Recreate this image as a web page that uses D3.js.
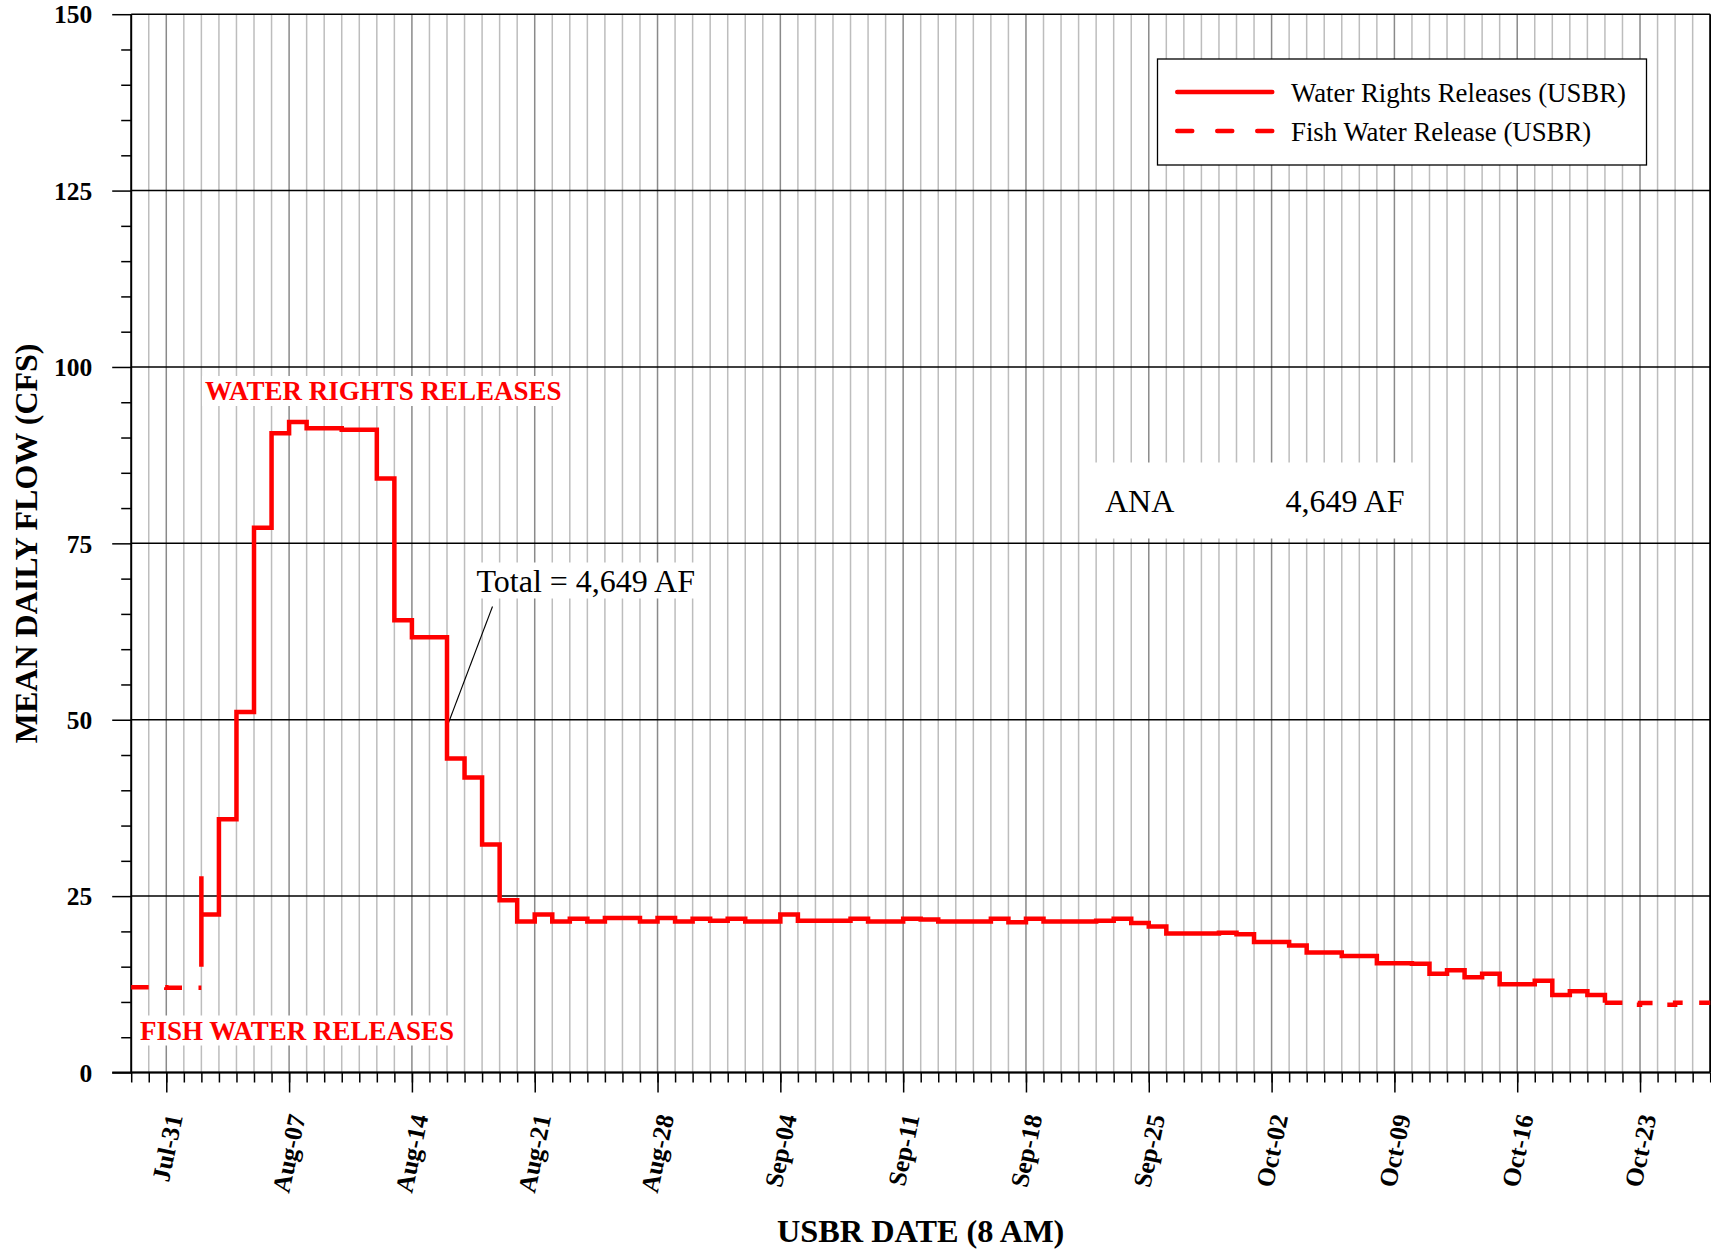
<!DOCTYPE html>
<html><head><meta charset="utf-8">
<script src="https://cdn.jsdelivr.net/npm/d3@7"></script>
<style>
html,body{margin:0;padding:0;background:#fff;}
svg{display:block;}
</style></head>
<body>
<svg id="chart" width="1711" height="1249"></svg>
<script>
// ---------------- data ----------------
const axisStartLabel = "Jul-29";
const axisEndLabel = "Oct-27";
const xTickLabels = ["Jul-31","Aug-07","Aug-14","Aug-21","Aug-28","Sep-04","Sep-11","Sep-18","Sep-25","Oct-02","Oct-09","Oct-16","Oct-23"];
const yTickValues = [0, 25, 50, 75, 100, 125, 150];
const yMinorStep = 5;

// Fish water release (dashed) before water-rights releases, daily values from Jul-29
const fishEarlyStart = "Jul-29";
const fishEarlyValues = [12.1, 12.1, 12.0, 12.0];

// Water rights releases (solid), daily values from Aug-02
const waterRightsStart = "Aug-02";
const waterRightsSpike = [15.0, 27.8];
const waterRightsValues = [
  22.4, 35.9, 51.1, 77.2, 90.6, 92.2, 91.3, 91.3, 91.1, 91.1,
  84.2, 64.1, 61.7, 61.7, 44.5, 41.8, 32.3, 24.4, 21.4, 22.4,
  21.4, 21.8, 21.4, 21.9, 21.9, 21.4, 21.9, 21.4, 21.8, 21.5,
  21.8, 21.4, 21.4, 22.4, 21.5, 21.5, 21.5, 21.8, 21.4, 21.4,
  21.8, 21.7, 21.4, 21.4, 21.4, 21.8, 21.3, 21.8, 21.4, 21.4,
  21.4, 21.5, 21.8, 21.2, 20.7, 19.7, 19.7, 19.7, 19.8, 19.6,
  18.5, 18.5, 18.0, 17.0, 17.0, 16.5, 16.5, 15.5, 15.5, 15.4,
  14.0, 14.5, 13.5, 14.0, 12.5, 12.5, 13.0, 11.0, 11.5, 11.0
];

// Fish water release (dashed) after water-rights releases, daily values from Oct-21
const fishLateStart = "Oct-21";
const fishLateValues = [9.9, 9.6, 9.85, 9.6, 9.9, 9.9];

const seriesNames = ["Water Rights Releases (USBR)", "Fish Water Release (USBR)"];
const yTitle = "MEAN DAILY FLOW (CFS)";
const xTitle = "USBR DATE (8 AM)";
const labelWaterRights = "WATER RIGHTS RELEASES";
const labelFish = "FISH WATER RELEASES";
const totalText = "Total = 4,649 AF";
const totalPointerDate = "Aug-16";
const totalPointerValue = 49;
const anaName = "ANA";
const anaValue = "4,649 AF";

// ---------------- chart ----------------
(function () {
const RED = "#ff0000";
const SERIF = "'Liberation Serif','Times New Roman',Times,serif";
const parse = d3.utcParse("%b-%d");
const svg = d3.select("#chart");

const pLeft = 131.2, pRight = 1710.2, pTop = 14.2, pBottom = 1072.5;
const x = d3.scaleUtc().domain([parse(axisStartLabel), parse(axisEndLabel)]).range([pLeft, pRight]);
const y = d3.scaleLinear().domain([0, 150]).range([pBottom, pTop]);

const allDays = d3.utcDay.range(parse(axisStartLabel), d3.utcDay.offset(parse(axisEndLabel), 1));
const majorDays = xTickLabels.map(parse);
const majorSet = new Set(majorDays.map(d => +d));

// vertical gridlines
svg.append("g").selectAll("line").data(allDays.filter(d => +d > +x.domain()[0] && +d < +x.domain()[1]))
  .join("line")
  .attr("x1", d => x(d)).attr("x2", d => x(d))
  .attr("y1", y(150)).attr("y2", y(0))
  .attr("stroke", d => majorSet.has(+d) ? "#8a8a8a" : "#bdbdbd")
  .attr("stroke-width", 1.5);

// horizontal gridlines
svg.append("g").selectAll("line").data(yTickValues)
  .join("line")
  .attr("x1", pLeft).attr("x2", pRight)
  .attr("y1", d => y(d)).attr("y2", d => y(d))
  .attr("stroke", "#000").attr("stroke-width", 1.5);

// y axis minor ticks
const yMinor = d3.range(0, 150 + 1e-9, yMinorStep).filter(v => v % 25 !== 0);
const gyMinor = svg.append("g").attr("transform", `translate(${pLeft},0)`)
  .call(d3.axisLeft(y).tickValues(yMinor).tickSize(10).tickFormat(""));
gyMinor.select(".domain").remove();
gyMinor.selectAll("line").attr("stroke", "#000").attr("stroke-width", 1.5);

// y axis major ticks + labels
const gy = svg.append("g").attr("transform", `translate(${pLeft},0)`)
  .call(d3.axisLeft(y).tickValues(yTickValues).tickSize(19).tickPadding(20));
gy.select(".domain").remove();
gy.selectAll("line").attr("stroke", "#000").attr("stroke-width", 1.5);
gy.selectAll("text").attr("font-family", SERIF).attr("font-weight", "bold")
  .attr("font-size", 25.5).attr("fill", "#000").attr("dy", "0.34em");

// x axis minor ticks
const gxMinor = svg.append("g").attr("transform", `translate(0,${pBottom})`)
  .call(d3.axisBottom(x).tickValues(allDays).tickSize(10).tickFormat(""));
gxMinor.select(".domain").remove();
gxMinor.selectAll("line").attr("stroke", "#000").attr("stroke-width", 1.5);

// x axis major ticks + labels
const gx = svg.append("g").attr("transform", `translate(0,${pBottom})`)
  .call(d3.axisBottom(x).tickValues(majorDays).tickSize(20).tickFormat((d, i) => xTickLabels[i]));
gx.select(".domain").remove();
gx.selectAll("line").attr("stroke", "#000").attr("stroke-width", 1.5);
gx.selectAll("text")
  .attr("x", null).attr("y", null).attr("dy", null)
  .attr("text-anchor", "end")
  .attr("transform", "translate(16,44) rotate(-78)")
  .attr("font-family", SERIF).attr("font-weight", "bold")
  .attr("font-size", 25.5).attr("fill", "#000");

// axis frame lines
svg.append("line").attr("x1", pLeft).attr("x2", pLeft).attr("y1", y(150)).attr("y2", y(0))
  .attr("stroke", "#000").attr("stroke-width", 2);
svg.append("line").attr("x1", pRight).attr("x2", pRight).attr("y1", y(150)).attr("y2", y(0))
  .attr("stroke", "#000").attr("stroke-width", 2);
svg.append("line").attr("x1", pLeft - 19).attr("x2", pRight).attr("y1", y(0)).attr("y2", y(0))
  .attr("stroke", "#000").attr("stroke-width", 2);

// axis titles
svg.append("text").attr("transform", `translate(37,${(pTop + pBottom) / 2}) rotate(-90)`)
  .attr("text-anchor", "middle").attr("font-family", SERIF).attr("font-weight", "bold")
  .attr("font-size", 32).text(yTitle);
svg.append("text").attr("x", (pLeft + pRight) / 2).attr("y", 1242)
  .attr("text-anchor", "middle").attr("font-family", SERIF).attr("font-weight", "bold")
  .attr("font-size", 32.3).text(xTitle);

// annotation labels with white backgrounds
function boxedText(g, tx, ty, txt, opts) {
  const t = g.append("text").attr("x", tx).attr("y", ty)
    .attr("font-family", SERIF).attr("font-size", opts.size)
    .attr("font-weight", opts.bold ? "bold" : "normal")
    .attr("fill", opts.color).text(txt);
  const b = t.node().getBBox();
  g.insert("rect", "text").attr("x", b.x - 3).attr("y", b.y).attr("width", b.width + 6).attr("height", b.height)
    .attr("fill", "#fff");
  return t;
}
const ann = svg.append("g");
boxedText(ann.append("g"), 205, 400, labelWaterRights, {size: 27, bold: true, color: RED});
boxedText(ann.append("g"), 140, 1039.5, labelFish, {size: 27, bold: true, color: RED});
boxedText(ann.append("g"), 476.5, 591.5, totalText, {size: 32, bold: false, color: "#000"});

// ANA box
const anaG = svg.append("g");
anaG.append("rect").attr("x", 1080).attr("y", 462.5).attr("width", 348).attr("height", 76).attr("fill", "#fff");
anaG.append("text").attr("x", 1105).attr("y", 511.5).attr("font-family", SERIF).attr("font-size", 32).text(anaName);
anaG.append("text").attr("x", 1285.5).attr("y", 511.5).attr("font-family", SERIF).attr("font-size", 32).text(anaValue);

// leader line to the total pointer
svg.append("line").attr("x1", 492.5).attr("y1", 606.5)
  .attr("x2", x(parse(totalPointerDate))).attr("y2", y(totalPointerValue))
  .attr("stroke", "#000").attr("stroke-width", 1.1);

// ---------------- series ----------------
function stepPoints(startLabel, values) {
  const s = parse(startLabel);
  const pts = values.map((v, i) => [d3.utcDay.offset(s, i), v]);
  pts.push([d3.utcDay.offset(s, values.length), values[values.length - 1]]);
  return pts;
}
const line = d3.line().x(d => x(d[0])).y(d => y(d[1])).curve(d3.curveStepAfter);

const wrStart = parse(waterRightsStart);
const wrPts = [[wrStart, waterRightsSpike[0]], [wrStart, waterRightsSpike[1]]]
  .concat(stepPoints(waterRightsStart, waterRightsValues));
wrPts.push([parse(fishLateStart), fishLateValues[0]]);

svg.append("path").attr("d", line(wrPts)).attr("fill", "none")
  .attr("stroke", RED).attr("stroke-width", 4.5).attr("stroke-linejoin", "miter");

[stepPoints(fishEarlyStart, fishEarlyValues), stepPoints(fishLateStart, fishLateValues)].forEach(pts => {
  svg.append("path").attr("d", line(pts)).attr("fill", "none")
    .attr("stroke", RED).attr("stroke-width", 4.5).attr("stroke-dasharray", "17.5,16.5");
});

// ---------------- legend ----------------
const lg = svg.append("g");
lg.append("rect").attr("x", 1157.5).attr("y", 59).attr("width", 489).attr("height", 106)
  .attr("fill", "#fff").attr("stroke", "#000").attr("stroke-width", 1.3);
const legendRows = [
  {name: seriesNames[0], dash: null, ly: 92, ty: 101.7},
  {name: seriesNames[1], dash: "15,25", ly: 131, ty: 140.7}
];
legendRows.forEach(r => {
  lg.append("line").attr("x1", 1177.25).attr("x2", 1272.25).attr("y1", r.ly).attr("y2", r.ly)
    .attr("stroke", RED).attr("stroke-width", 4.5).attr("stroke-linecap", "round")
    .attr("stroke-dasharray", r.dash);
  lg.append("text").attr("x", 1291).attr("y", r.ty).attr("font-family", SERIF)
    .attr("font-size", 26.8).attr("fill", "#000").text(r.name);
});
})();
</script>
</body></html>
